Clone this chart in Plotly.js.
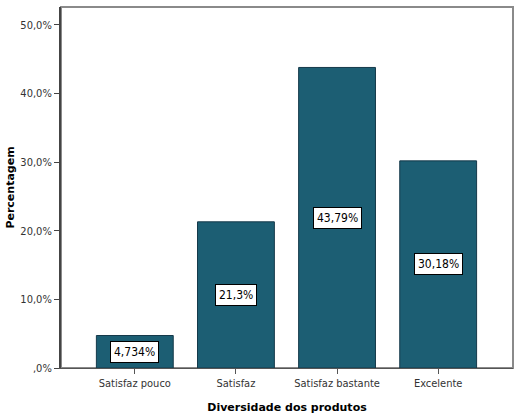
<!DOCTYPE html>
<html><head><meta charset="utf-8">
<script src="https://cdn.plot.ly/plotly-3.0.1.min.js"></script>
<style>html,body{margin:0;padding:0;background:#fff}#c{width:517px;height:414px}</style>
</head><body><div id="c"></div>
<script>
const categories = ["Satisfaz pouco", "Satisfaz", "Satisfaz bastante", "Excelente"];
const values = [4.734, 21.3, 43.79, 30.18];
const valueLabels = ["4,734%", "21,3%", "43,79%", "30,18%"];
const yTickVals = [0, 10, 20, 30, 40, 50];
const yTickText = [",0%", "10,0%", "20,0%", "30,0%", "40,0%", "50,0%"];

const trace = {
  type: "bar", x: categories, y: values, width: 0.76,
  marker: {color: "#1c5e73", line: {color: "#15394a", width: 1}},
  hoverinfo: "none"
};
const annotations = categories.map((c, i) => ({
  x: c, y: values[i] / 2, xref: "x", yref: "y", text: valueLabels[i],
  showarrow: false, bgcolor: "#ffffff", bordercolor: "#000000", borderwidth: 1, borderpad: 3,
  font: {family: "DejaVu Sans Condensed, Liberation Sans, sans-serif", size: 12, color: "#000"}
}));
const layout = {
  width: 517, height: 414,
  margin: {l: 61, r: 4, t: 7, b: 46},
  paper_bgcolor: "#fff", plot_bgcolor: "#fff",
  showlegend: false,
  xaxis: {
    range: [-0.73, 3.74], type: "category",
    showline: true, linecolor: "#555", linewidth: 1, mirror: false,
    ticks: "outside", ticklen: 5, tickcolor: "#555", showgrid: false,
    tickfont: {family: "DejaVu Sans Condensed, Liberation Sans, sans-serif", size: 11, color: "#333"},
    title: {text: "<b>Diversidade dos produtos</b>", standoff: 15,
      font: {family: "DejaVu Sans, Liberation Sans, sans-serif", size: 11, color: "#000"}}
  },
  yaxis: {
    range: [0, 52.6], tickvals: yTickVals, ticktext: yTickText,
    showline: true, linecolor: "#444", linewidth: 2,
    ticks: "outside", ticklen: 5, tickcolor: "#444", showgrid: false, zeroline: false,
    tickfont: {family: "DejaVu Sans Condensed, Liberation Sans, sans-serif", size: 11, color: "#333"},
    title: {text: "<b>Percentagem</b>", standoff: 4,
      font: {family: "DejaVu Sans, Liberation Sans, sans-serif", size: 11, color: "#000"}}
  },
  shapes: [{type: "rect", xref: "paper", yref: "paper", x0: 0, x1: 1, y0: 0, y1: 1,
    line: {color: "#8a8a8a", width: 2}, fillcolor: "rgba(0,0,0,0)", layer: "below"}],
  annotations: annotations
};
Plotly.newPlot("c", [trace], layout, {displayModeBar: false, staticPlot: true});
</script></body></html>
